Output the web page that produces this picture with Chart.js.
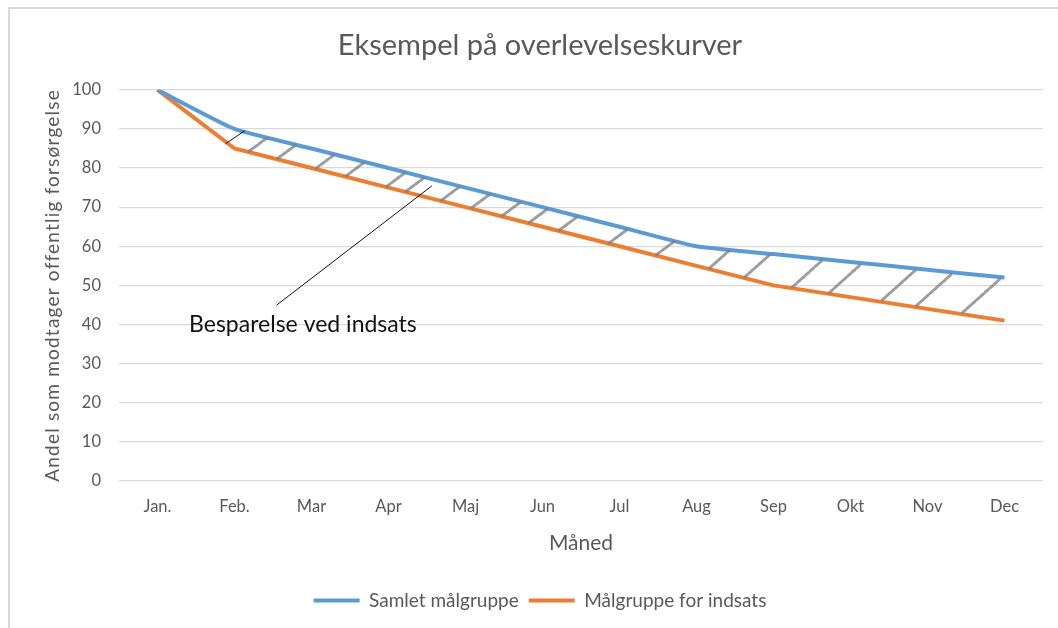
<!DOCTYPE html>
<html>
<head>
<meta charset="utf-8">
<script src="https://cdn.jsdelivr.net/npm/chart.js@4"></script>
<style>
  html, body { margin: 0; padding: 0; background: #fff; }
  #wrap { width: 1058px; height: 628px; }
</style>
</head>
<body>
<div id="wrap"><canvas id="chartKurver" width="1058" height="628"></canvas></div>
<script>
// Data
var maaneder = ['Jan.', 'Feb.', 'Mar', 'Apr', 'Maj', 'Jun', 'Jul', 'Aug', 'Sep', 'Okt', 'Nov', 'Dec'];
var samlet = [100, 90, 85, 80, 75, 70, 65, 60, 58, 56, 54, 52];
var indsats = [100, 85, 80, 75, 70, 65, 60, 55, 50, 47, 44, 41];
var yTicks = [0, 10, 20, 30, 40, 50, 60, 70, 80, 90, 100];

// hand drawn hatch strokes between the curves (month index where a stroke starts)
var skravering = [1.19, 1.56, 2.06, 2.45, 2.98, 3.23, 3.69, 4.08, 4.48, 4.83, 5.22, 5.87, 6.48, 7.17, 7.63, 8.25, 8.73, 9.41, 9.86, 10.46];

// annotation: text and pointer, in month index / value
var noteTekst = 'Besparelse ved indsats';
var notePos = [0.41, 39.9];
var notePil = [[1.55, 45], [3.56, 75.4]];
var noteStreg = [[0.89, 86.3], [1.13, 89.5]];

var FONT = 'Lato, "Open Sans", sans-serif';
var GRAA = '#595959';

function interp(arr, t) {
    var i = Math.max(0, Math.min(arr.length - 2, Math.floor(t)));
    return arr[i] + (arr[i + 1] - arr[i]) * (t - i);
}

var rammePlugin = {
    id: 'ramme',
    beforeDraw: function (chart) {
        var ctx = chart.ctx;
        ctx.save();
        ctx.fillStyle = '#fff';
        ctx.fillRect(0, 0, chart.width, chart.height);
        ctx.strokeStyle = '#d9d9d9';
        ctx.lineWidth = 2;
        ctx.beginPath();
        ctx.moveTo(9, chart.height);
        ctx.lineTo(9, 8);
        ctx.lineTo(chart.width, 8);
        ctx.stroke();
        ctx.restore();
    }
};

var notePlugin = {
    id: 'note',
    afterDatasetsDraw: function (chart) {
        var ctx = chart.ctx;
        var xs = chart.scales.x, ys = chart.scales.y;
        var pxPerMd = xs.getPixelForValue(1) - xs.getPixelForValue(0);
        ctx.save();

        // hatching
        ctx.strokeStyle = 'rgba(125,125,125,0.75)';
        ctx.lineWidth = 3;
        ctx.lineCap = 'round';
        ctx.setLineDash([4, 2]);
        skravering.forEach(function (t) {
            var x0 = xs.getPixelForValue(t);
            var yO = ys.getPixelForValue(interp(indsats, t));
            var yB = ys.getPixelForValue(interp(samlet, t));
            var g = yO - yB;
            var t1 = t + (0.9 * g) / pxPerMd;
            var x1 = xs.getPixelForValue(t1);
            var yO1 = ys.getPixelForValue(interp(indsats, t1));
            var yB1 = ys.getPixelForValue(interp(samlet, t1));
            ctx.beginPath();
            ctx.moveTo(x0, yO - 0.05 * g);
            ctx.lineTo(x1, yB1 + 0.05 * (yO1 - yB1));
            ctx.stroke();
        });
        ctx.setLineDash([]);

        // pointer lines
        ctx.strokeStyle = '#111';
        ctx.lineWidth = 1;
        [notePil, noteStreg].forEach(function (l) {
            ctx.beginPath();
            ctx.moveTo(xs.getPixelForValue(l[0][0]), ys.getPixelForValue(l[0][1]));
            ctx.lineTo(xs.getPixelForValue(l[1][0]), ys.getPixelForValue(l[1][1]));
            ctx.stroke();
        });

        // text
        ctx.fillStyle = '#111';
        ctx.font = '23px ' + FONT;
        ctx.textAlign = 'left';
        ctx.textBaseline = 'middle';
        ctx.fillText(noteTekst, xs.getPixelForValue(notePos[0]), ys.getPixelForValue(notePos[1]));
        ctx.restore();
    }
};

var data = {
    labels: maaneder,
    datasets: [{
        label: 'Samlet målgruppe',
        data: samlet,
        borderColor: '#5B9BD5',
        backgroundColor: '#5B9BD5',
        borderWidth: 4,
        pointRadius: 0,
        tension: 0.15
    }, {
        label: 'Målgruppe for indsats',
        data: indsats,
        borderColor: '#ED7D31',
        backgroundColor: '#ED7D31',
        borderWidth: 4,
        pointRadius: 0,
        tension: 0
    }]
};

var options = {
    responsive: false,
    animation: false,
    layout: { padding: { left: 37, right: 15, top: 8, bottom: 8 } },
    plugins: {
        title: {
            display: true,
            text: 'Eksempel på overlevelseskurver',
            color: GRAA,
            font: { family: FONT, size: 29, weight: 'normal' },
            padding: { top: 20, bottom: 27 }
        },
        legend: {
            position: 'bottom',
            labels: {
                color: GRAA,
                font: { family: FONT, size: 19 },
                usePointStyle: true,
                pointStyle: 'line',
                pointStyleWidth: 46,
                padding: 10
            }
        },
        tooltip: { enabled: false }
    },
    scales: {
        x: {
            offset: true,
            grid: { display: false, drawTicks: false },
            border: { display: false },
            ticks: { color: GRAA, font: { family: FONT, size: 16.5 }, padding: 16 },
            title: {
                display: true,
                text: 'Måned',
                color: GRAA,
                font: { family: FONT, size: 21 },
                padding: { top: 4, bottom: 25 }
            },
            afterFit: function (scale) { scale.height = 100; }
        },
        y: {
            min: 0,
            max: 100,
            afterBuildTicks: function (scale) {
                scale.ticks = yTicks.map(function (v) { return { value: v }; });
            },
            grid: { color: '#d9d9d9', lineWidth: 1.3, drawTicks: false },
            border: { display: false },
            ticks: { color: GRAA, font: { family: FONT, size: 16.5 }, padding: 18 },
            title: {
                display: true,
                text: 'Andel som modtager offentlig forsørgelse',
                color: GRAA,
                font: { family: FONT, size: 19 },
                padding: { top: 4, bottom: 4 }
            },
            afterFit: function (scale) {
                scale.width = 82;
                if (!scale._spaced) {
                    // the y title is letter spaced in the original
                    var orig = scale.drawTitle;
                    scale.drawTitle = function () {
                        this.ctx.save();
                        this.ctx.letterSpacing = '1.2px';
                        orig.call(this);
                        this.ctx.restore();
                    };
                    scale._spaced = true;
                }
            }
        }
    }
};

var ctx = document.getElementById('chartKurver').getContext('2d');
var kurveChart = new Chart(ctx, {
    type: 'line',
    data: data,
    options: options,
    plugins: [rammePlugin, notePlugin]
});
</script>
</body>
</html>
